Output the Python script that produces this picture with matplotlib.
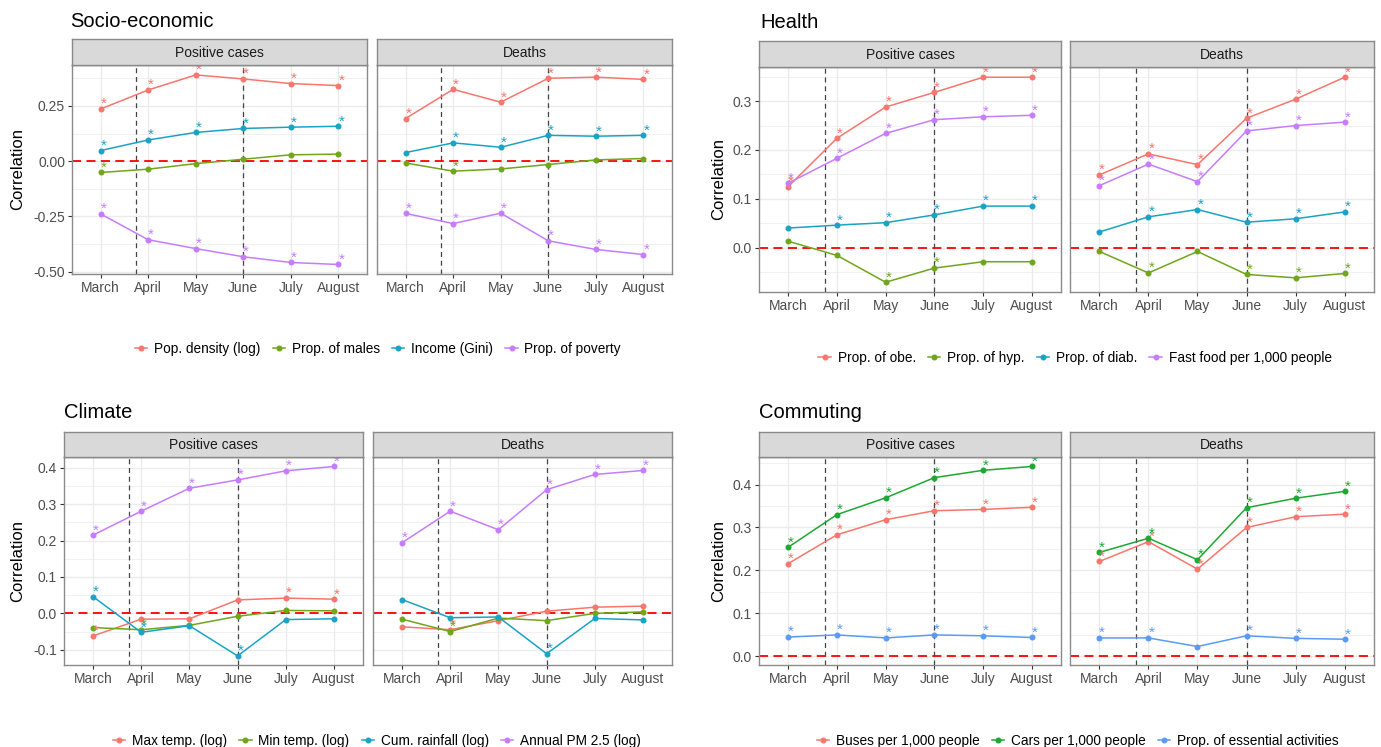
import matplotlib
matplotlib.use("Agg")
import matplotlib.pyplot as plt
from matplotlib.lines import Line2D
from matplotlib.ticker import FixedLocator
import numpy as np

plt.rcParams['font.family'] = ['Liberation Sans', 'DejaVu Sans']
plt.rcParams['axes.unicode_minus'] = False

months = ["March", "April", "May", "June", "July", "August"]
facets = ["Positive cases", "Deaths"]
vlines_at = [1.75, 4.0]

# ---------------- Socio-economic ----------------
socio_names = ["Pop. density (log)", "Prop. of males", "Income (Gini)", "Prop. of poverty"]
socio_colors = ["#F8766D", "#6FA61A", "#1AA3C6", "#C77CFF"]
socio_pos = [
    [0.236, 0.322, 0.390, 0.372, 0.351, 0.342],
    [-0.051, -0.036, -0.011, 0.009, 0.029, 0.032],
    [0.048, 0.096, 0.130, 0.148, 0.154, 0.158],
    [-0.238, -0.355, -0.395, -0.432, -0.458, -0.467],
]
socio_death = [
    [0.193, 0.325, 0.267, 0.375, 0.380, 0.370],
    [-0.008, -0.045, -0.035, -0.015, 0.006, 0.012],
    [0.039, 0.083, 0.063, 0.117, 0.113, 0.117],
    [-0.236, -0.282, -0.235, -0.360, -0.399, -0.422],
]
socio_pos_stars = [
    [1, 1, 1, 1, 1, 1],
    [1, 0, 0, 0, 0, 0],
    [1, 1, 1, 1, 1, 1],
    [1, 1, 1, 1, 1, 1],
]
socio_death_stars = [
    [1, 1, 1, 1, 1, 1],
    [0, 1, 0, 0, 0, 0],
    [0, 1, 1, 1, 1, 1],
    [1, 1, 1, 1, 1, 1],
]
socio_yticks = [-0.50, -0.25, 0.00, 0.25]

# ---------------- Health ----------------
health_names = ["Prop. of obe.", "Prop. of hyp.", "Prop. of diab.", "Fast food per 1,000 people"]
health_colors = ["#F8766D", "#6FA61A", "#1AA3C6", "#C77CFF"]
health_pos = [
    [0.125, 0.224, 0.288, 0.318, 0.349, 0.349],
    [0.013, -0.016, -0.071, -0.042, -0.029, -0.029],
    [0.040, 0.046, 0.051, 0.067, 0.085, 0.085],
    [0.132, 0.183, 0.234, 0.262, 0.268, 0.271],
]
health_death = [
    [0.149, 0.192, 0.170, 0.265, 0.304, 0.349],
    [-0.008, -0.052, -0.008, -0.055, -0.062, -0.053],
    [0.032, 0.063, 0.078, 0.052, 0.059, 0.073],
    [0.127, 0.171, 0.135, 0.239, 0.250, 0.257],
]
health_pos_stars = [
    [1, 1, 1, 1, 1, 1],
    [0, 0, 1, 1, 0, 0],
    [0, 1, 1, 1, 1, 1],
    [1, 1, 1, 1, 1, 1],
]
health_death_stars = [
    [1, 1, 1, 1, 1, 1],
    [0, 1, 0, 1, 1, 1],
    [0, 1, 1, 1, 1, 1],
    [1, 1, 1, 1, 1, 1],
]
health_yticks = [0.0, 0.1, 0.2, 0.3]

# ---------------- Climate ----------------
climate_names = ["Max temp. (log)", "Min temp. (log)", "Cum. rainfall (log)", "Annual PM 2.5 (log)"]
climate_colors = ["#F8766D", "#6FA61A", "#1AA3C6", "#C77CFF"]
climate_pos = [
    [-0.062, -0.016, -0.015, 0.037, 0.042, 0.039],
    [-0.039, -0.045, -0.033, -0.008, 0.008, 0.007],
    [0.046, -0.052, -0.034, -0.117, -0.017, -0.015],
    [0.215, 0.281, 0.344, 0.367, 0.392, 0.404],
]
climate_death = [
    [-0.037, -0.045, -0.020, 0.006, 0.017, 0.020],
    [-0.016, -0.050, -0.013, -0.020, 0.000, 0.004],
    [0.038, -0.012, -0.010, -0.111, -0.014, -0.018],
    [0.194, 0.281, 0.230, 0.340, 0.382, 0.393],
]
climate_pos_stars = [
    [1, 0, 0, 0, 1, 1],
    [0, 1, 0, 0, 0, 0],
    [1, 1, 0, 1, 0, 0],
    [1, 1, 1, 1, 1, 1],
]
climate_death_stars = [
    [0, 1, 0, 0, 0, 0],
    [0, 1, 0, 0, 0, 0],
    [0, 0, 0, 1, 0, 0],
    [1, 1, 1, 1, 1, 1],
]
climate_yticks = [-0.1, 0.0, 0.1, 0.2, 0.3, 0.4]

# ---------------- Commuting ----------------
commute_names = ["Buses per 1,000 people", "Cars per 1,000 people", "Prop. of essential activities"]
commute_colors = ["#F8766D", "#1DA834", "#5A9BF5"]
commute_pos = [
    [0.216, 0.283, 0.318, 0.339, 0.342, 0.347],
    [0.254, 0.330, 0.369, 0.416, 0.433, 0.442],
    [0.045, 0.050, 0.043, 0.050, 0.048, 0.044],
]
commute_death = [
    [0.221, 0.267, 0.203, 0.300, 0.325, 0.331],
    [0.242, 0.275, 0.225, 0.346, 0.368, 0.384],
    [0.043, 0.043, 0.023, 0.048, 0.042, 0.040],
]
commute_pos_stars = [
    [1, 1, 1, 1, 1, 1],
    [1, 1, 1, 1, 1, 1],
    [1, 1, 1, 1, 1, 1],
]
commute_death_stars = [
    [1, 1, 1, 1, 1, 1],
    [1, 1, 1, 1, 1, 1],
    [1, 1, 0, 1, 1, 1],
]
commute_yticks = [0.0, 0.1, 0.2, 0.3, 0.4]

# ---------------- Figure ----------------
W, H = 1381, 747
fig = plt.figure(figsize=(W / 100, H / 100), dpi=100)
fig.patch.set_facecolor("white")

BORDER = "#8A8A8A"
GRID = "#EBEBEB"
TICKC = "#4D4D4D"


def px_axes(x0, y0, x1, y1):
    return fig.add_axes([x0 / W, 1 - y1 / H, (x1 - x0) / W, (y1 - y0) / H])


def draw_group(title, names, colors, pos_vals, death_vals, pos_stars, death_stars,
               yticks, ylim, fmt, geo):
    xs = np.arange(1, len(months) + 1)
    (fx, strip_y, plot_y, title_xy, ylab_x, leg_xy) = geo
    major = np.array(yticks)
    step = major[1] - major[0]
    minor = np.concatenate([major - step / 2, [major[-1] + step / 2]])
    minor = [m for m in minor if ylim[0] <= m <= ylim[1]]
    for k, (x0, x1) in enumerate(fx):
        ax = px_axes(x0, plot_y[0], x1, plot_y[1])
        vals = pos_vals if k == 0 else death_vals
        stars = pos_stars if k == 0 else death_stars
        ax.set_xlim(0.4, len(months) + 0.6)
        ax.set_ylim(*ylim)
        for m in minor:
            ax.axhline(m, color=GRID, lw=0.5, zorder=0)
        for t in major:
            ax.axhline(t, color=GRID, lw=1.0, zorder=0)
        for x in xs:
            ax.axvline(x, color=GRID, lw=1.0, zorder=0)
        for xv in vlines_at:
            ax.axvline(xv, color="#444444", lw=0.9, dashes=(4, 3), zorder=1)
        ax.axhline(0, color="#FF0000", lw=1.3, dashes=(5, 3), zorder=1)
        for si, (v, c) in enumerate(zip(vals, colors)):
            ax.plot(xs, v, color=c, lw=1.1, marker="o", ms=3.3, zorder=3)
            for mi in range(len(months)):
                if stars[si][mi]:
                    ax.annotate("*", (xs[mi], v[mi]), xytext=(2.0, 0.6),
                                textcoords="offset points", ha="center",
                                va="baseline", color=c, fontsize=11,
                                annotation_clip=False, clip_on=True, zorder=4)
        ax.set_xticks(xs)
        ax.set_xticklabels(months, fontsize=10, color=TICKC)
        ax.set_yticks(yticks)
        ax.yaxis.set_minor_locator(FixedLocator([]))
        if k == 0:
            ax.set_yticklabels([fmt.format(t) for t in yticks], fontsize=10, color=TICKC)
        else:
            ax.tick_params(axis="y", left=False, labelleft=False)
        ax.tick_params(axis="both", length=3, width=0.8, color="#333333", pad=2)
        for sp in ax.spines.values():
            sp.set_color(BORDER)
            sp.set_linewidth(1.0)
        ax.spines["top"].set_color("#555555")
        # strip
        sax = px_axes(x0, strip_y[0], x1, strip_y[1])
        sax.set_facecolor("#D9D9D9")
        sax.set_xticks([])
        sax.set_yticks([])
        for sp in sax.spines.values():
            sp.set_color(BORDER)
            sp.set_linewidth(1.0)
        sax.text(0.5, 0.48, facets[k], transform=sax.transAxes, ha="center",
                 va="center", fontsize=10, color="#1A1A1A")
    fig.text(title_xy[0] / W, 1 - title_xy[1] / H, title, fontsize=14.5,
             ha="left", va="baseline", color="black")
    fig.text(ylab_x / W, 1 - (plot_y[0] + plot_y[1]) / 2 / H, "Correlation",
             rotation=90, fontsize=12, ha="center", va="center", color="black")
    handles = [Line2D([0], [0], color=c, lw=1.1, marker="o", ms=3.3) for c in colors]
    fig.legend(handles, names, loc="center",
               bbox_to_anchor=(leg_xy[0] / W, 1 - leg_xy[1] / H),
               ncol=len(names), frameon=False, fontsize=9.8, handlelength=0.9,
               handletextpad=0.5, columnspacing=0.9, borderaxespad=0)


draw_group("Socio-economic", socio_names, socio_colors, socio_pos, socio_death,
           socio_pos_stars, socio_death_stars, socio_yticks, (-0.51, 0.435), "{:.2f}",
           ([(72, 367), (377, 672)], (39, 65), (65, 274), (70, 27), 18, (378, 349)))

draw_group("Health", health_names, health_colors, health_pos, health_death,
           health_pos_stars, health_death_stars, health_yticks, (-0.091, 0.370), "{:.1f}",
           ([(759, 1061), (1070, 1374)], (41, 67), (67, 292), (760, 28), 719, (1075, 358)))

draw_group("Climate", climate_names, climate_colors, climate_pos, climate_death,
           climate_pos_stars, climate_death_stars, climate_yticks, (-0.142, 0.430), "{:.1f}",
           ([(64, 363), (373, 672)], (432, 457), (457, 665), (64, 418), 18, (377, 741)))

draw_group("Commuting", commute_names, commute_colors, commute_pos, commute_death,
           commute_pos_stars, commute_death_stars, commute_yticks, (-0.02, 0.464), "{:.1f}",
           ([(759, 1061), (1070, 1374)], (432, 457), (457, 665), (759, 418), 719, (1078, 741)))

fig.savefig("out.png", dpi=100, facecolor="white")
